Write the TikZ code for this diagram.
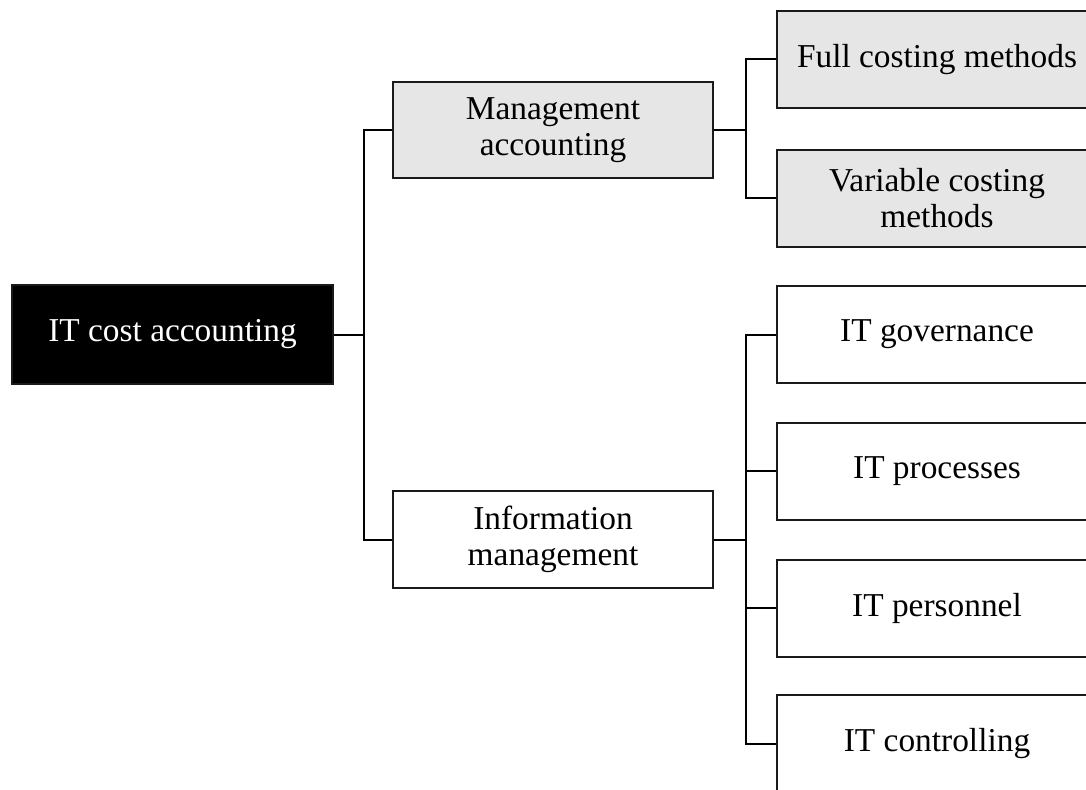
\documentclass[tikz,border=0pt]{standalone}
\usepackage{fontspec}
\setmainfont{Liberation Serif}
\definecolor{boxgray}{HTML}{E6E6E6}
\definecolor{edgegray}{HTML}{1A1A1A}
\tikzset{
  base/.style={draw=edgegray, line width=2bp, align=center, inner sep=0pt,
    font=\fontsize{33.5}{36}\selectfont, minimum width=320bp, text=black},
  rootbox/.style={base, fill=black, text=white, minimum width=321bp, minimum height=99bp},
  midgray/.style={base, fill=boxgray, minimum height=96bp},
  midwhite/.style={base, fill=white, minimum height=97bp},
  leafgray/.style={base, fill=boxgray, minimum height=97bp},
  leafwhite/.style={base, fill=white, minimum height=97bp},
  link/.style={draw=black, line width=2bp}
}
\begin{document}
\begin{tikzpicture}[x=1bp,y=-1bp]
\useasboundingbox (0,0) rectangle (1086,790);
\clip (0,0) rectangle (1086,790);
\fill[white] (0,0) rectangle (1086,790);

\node[rootbox] (root) at (172.5,334.5) {IT cost accounting};
\node[midgray] (ma) at (553,130) {Management\\accounting};
\node[midwhite] (im) at (553,539.5) {Information\\management};

\node[leafgray] (fc) at (937,59.5) {Full costing methods};
\node[leafgray] (vc) at (937,198) {Variable costing\\methods};

\node[leafwhite] (gov) at (937,334.5) {IT governance};
\node[leafwhite] (proc) at (937,471) {IT processes};
\node[leafwhite] (pers) at (937,608) {IT personnel};
\node[leafwhite] (ctrl) at (937,743.5) {IT controlling};

\draw[link] (root.east) -- ++(30,0) coordinate (j1);
\draw[link] (j1) |- (ma.west);
\draw[link] (j1) |- (im.west);

\draw[link] (ma.east) -- ++(32,0) coordinate (j2);
\draw[link] (j2) |- (fc.west);
\draw[link] (j2) |- (vc.west);

\draw[link] (im.east) -- ++(32,0) coordinate (j3);
\draw[link] (j3) |- (gov.west);
\draw[link] (j3) |- (proc.west);
\draw[link] (j3) |- (pers.west);
\draw[link] (j3) |- (ctrl.west);
\end{tikzpicture}
\end{document}
